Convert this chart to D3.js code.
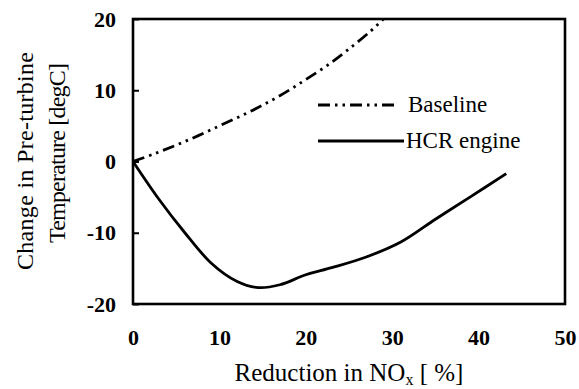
<!DOCTYPE html>
<html>
<head>
<meta charset="utf-8">
<script src="https://cdn.jsdelivr.net/npm/d3@7"></script>
<style>
  html, body { margin: 0; padding: 0; background: #fff; }
  svg { display: block; }
</style>
</head>
<body>
<svg id="chart" width="579" height="389"></svg>
<script>
// Pre-turbine temperature change versus NOx reduction
const baselineX = [0, 2.5, 5, 7.5, 10, 12.5, 15, 17.5, 20, 22.5, 25, 27.5, 29, 30];
const baselineY = [0, 1.1, 2.3, 3.6, 5.0, 6.4, 7.9, 9.6, 11.5, 13.5, 15.8, 18.3, 20, 21.2];

const hcrX = [0, 3, 6, 9, 12, 14.5, 17, 20, 23, 27, 31, 35, 39, 43.2];
const hcrY = [0, -5.3, -10, -14.2, -16.8, -17.7, -17.3, -15.9, -14.9, -13.4, -11.3, -8.1, -5.0, -1.7];

const xTicks = [0, 10, 20, 30, 40, 50];
const yTicks = [-20, -10, 0, 10, 20];
const seriesNames = ["Baseline", "HCR engine"];

const FONT = "Liberation Serif";

const svg = d3.select("#chart");
const plot = { left: 133, right: 565, top: 19, bottom: 304 };

const x = d3.scaleLinear().domain([0, 50]).range([plot.left, plot.right]);
const y = d3.scaleLinear().domain([-20, 20]).range([plot.bottom, plot.top]);

svg.append("clipPath").attr("id", "plot-clip")
  .append("rect")
  .attr("x", plot.left).attr("y", plot.top)
  .attr("width", plot.right - plot.left).attr("height", plot.bottom - plot.top);

const line = d3.line().x(d => x(d[0])).y(d => y(d[1])).curve(d3.curveCatmullRom.alpha(0.5));

const baseline = baselineX.map((v, i) => [v, baselineY[i]]);
const hcr = hcrX.map((v, i) => [v, hcrY[i]]);

const dashPattern = "12,5,2.5,5,2.5,5";

svg.append("path")
  .datum(baseline)
  .attr("clip-path", "url(#plot-clip)")
  .attr("d", line)
  .attr("fill", "none")
  .attr("stroke", "#000")
  .attr("stroke-width", 2.8)
  .attr("stroke-dasharray", dashPattern);

svg.append("path")
  .datum(hcr)
  .attr("clip-path", "url(#plot-clip)")
  .attr("d", line)
  .attr("fill", "none")
  .attr("stroke", "#000")
  .attr("stroke-width", 2.8);

// Frame
svg.append("rect")
  .attr("x", plot.left).attr("y", plot.top)
  .attr("width", plot.right - plot.left).attr("height", plot.bottom - plot.top)
  .attr("fill", "none").attr("stroke", "#000").attr("stroke-width", 2.6);

// Plain hyphen for negative numbers
const fmt = d => String(d);

// Y axis: inward ticks, labels on the left
const yAxis = d3.axisLeft(y).tickValues(yTicks).tickSizeInner(-6).tickSizeOuter(0).tickPadding(17)
  .tickFormat(fmt);
const gy = svg.append("g").attr("transform", `translate(${plot.left},0)`).call(yAxis);
gy.attr("font-family", FONT);
gy.select(".domain").remove();
gy.selectAll(".tick line").attr("stroke-width", 2);

// X axis labels (no tick marks)
const xAxis = d3.axisBottom(x).tickValues(xTicks).tickSize(0).tickPadding(25).tickFormat(fmt);
const gx = svg.append("g").attr("transform", `translate(0,${plot.bottom})`).call(xAxis);
gx.attr("font-family", FONT);
gx.select(".domain").remove();

svg.selectAll(".tick text")
  .attr("font-family", FONT)
  .attr("font-size", 22).attr("font-weight", "bold");

// Axis titles
const xt = svg.append("text")
  .attr("x", 349).attr("y", 381)
  .attr("text-anchor", "middle")
  .attr("font-family", FONT)
  .attr("font-size", 25);
xt.append("tspan").text("Reduction in NO");
xt.append("tspan").attr("font-size", 16).attr("dy", 4).text("x");
xt.append("tspan").attr("dy", -4).text(" [ %]");

const yTitle = [
  { text: "Change in Pre-turbine", cx: 33, cy: 161, len: 218 },
  { text: "Temperature [degC]", cx: 65, cy: 153, len: 180 }
];
yTitle.forEach(t => {
  svg.append("text")
    .attr("transform", `translate(${t.cx},${t.cy}) rotate(-90)`)
    .attr("text-anchor", "middle")
    .attr("font-family", FONT)
    .attr("font-size", 24)
    .attr("textLength", t.len)
    .text(t.text);
});

// Legend
const legend = svg.append("g");
const legendRows = [
  { name: seriesNames[0], dash: dashPattern, yPos: 105, x2: 397, tx: 408 },
  { name: seriesNames[1], dash: null, yPos: 141, x2: 404, tx: 406 }
];
legendRows.forEach(r => {
  legend.append("line")
    .attr("x1", 318).attr("x2", r.x2)
    .attr("y1", r.yPos).attr("y2", r.yPos)
    .attr("stroke", "#000").attr("stroke-width", 2.8)
    .attr("stroke-dasharray", r.dash);
  legend.append("text")
    .attr("x", r.tx).attr("y", r.yPos + 7)
    .attr("font-family", FONT)
    .attr("font-size", 23)
    .text(r.name);
});
</script>
</body>
</html>
